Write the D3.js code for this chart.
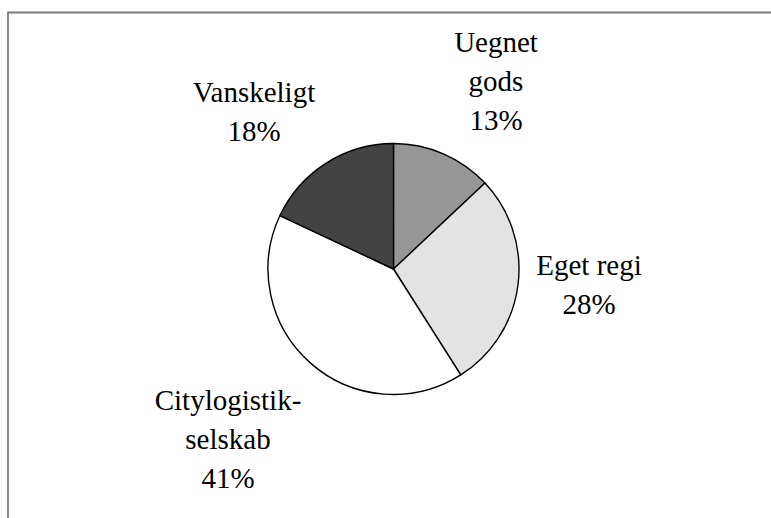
<!DOCTYPE html>
<html>
<head>
<meta charset="utf-8">
<script src="https://cdn.jsdelivr.net/npm/d3@7"></script>
<style>
  html, body { margin: 0; padding: 0; background: #fff; }
  svg { display: block; }
</style>
</head>
<body>
<svg id="chart" width="771" height="518"></svg>
<script>
// Data
const categories = ["Uegnet gods", "Eget regi", "Citylogistik-selskab", "Vanskeligt"];
const values = [13, 28, 41, 18];
const labelLines = [["Uegnet", "gods", "13%"], ["Eget regi", "28%"], ["Citylogistik-", "selskab", "41%"], ["Vanskeligt", "18%"]];
const colors = ["#969696", "#e3e3e3", "#ffffff", "#434343"];

// Layout
const W = 771, H = 518;
const cx = 393.5, cy = 269, R = 125.5;
const lineH = 39;
// label block first-baseline positions (layout only)
const labelAnchors = [[496, 52], [589, 275], [228, 410], [254, 102]];

const svg = d3.select("#chart");

// frame (extends beyond right/bottom edges)
svg.append("path")
  .attr("d", `M8,${H + 5} L8,12.5 L${W + 5},12.5`)
  .attr("fill", "none")
  .attr("stroke", "#7a7a7a")
  .attr("stroke-width", 1.8);

const data = categories.map((c, i) => ({ name: c, value: values[i], color: colors[i], lines: labelLines[i] }));

const pie = d3.pie().sort(null).value(d => d.value);
const arc = d3.arc().innerRadius(0).outerRadius(R);

const g = svg.append("g").attr("transform", `translate(${cx},${cy})`);
g.selectAll("path.slice")
  .data(pie(data))
  .join("path")
  .attr("class", "slice")
  .attr("d", arc)
  .attr("fill", d => d.data.color)
  .attr("stroke", "#000")
  .attr("stroke-width", 1.4)
  .attr("stroke-linejoin", "round");

const labels = svg.selectAll("text.lbl")
  .data(data)
  .join("text")
  .attr("class", "lbl")
  .attr("text-anchor", "middle")
  .style("font-family", '"Liberation Serif"')
  .style("font-size", "29px")
  .attr("fill", "#000");

labels.each(function(d, i) {
  const [x, y] = labelAnchors[i];
  d3.select(this).selectAll("tspan")
    .data(d.lines)
    .join("tspan")
    .attr("x", x)
    .attr("y", (t, j) => y + j * lineH)
    .text(t => t);
});
</script>
</body>
</html>
